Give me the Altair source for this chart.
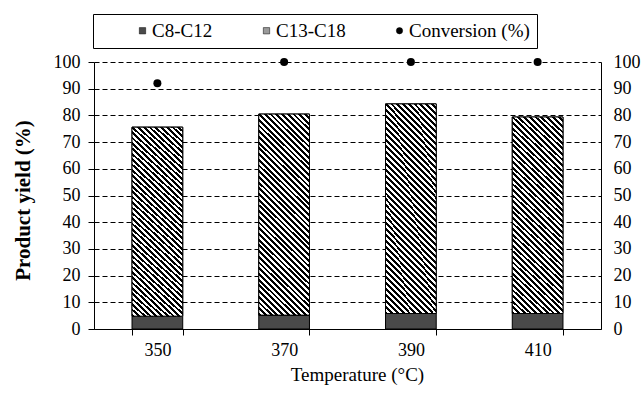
import altair as alt
import pandas as pd

temps = ["350", "370", "390", "410"]
c8_c12 = [4.8, 5.2, 5.8, 5.8]
c13_c18 = [70.8, 75.3, 78.5, 73.6]
conversion = [92, 100, 100, 100]
series = ["C8-C12", "C13-C18", "Conversion (%)"]
y_ticks = list(range(0, 101, 10))

rows = []
for t, a, b in zip(temps, c8_c12, c13_c18):
    rows.append({"temp": t, "series": "C8-C12", "y0": 0.0, "y1": a})
    rows.append({"temp": t, "series": "C13-C18", "y0": a, "y1": a + b})
bars_df = pd.DataFrame(rows)
hatch_df = bars_df[bars_df["series"] == "C13-C18"]
conv_df = pd.DataFrame({"temp": temps, "series": "Conversion (%)", "value": conversion})

FONT = "Liberation Serif"

# diagonal hatch as a striped linear gradient
N = 44
stops = []
for i in range(N):
    s, m, e = i / N, (i + 0.5) / N, (i + 1) / N
    stops += [
        {"offset": round(s, 5), "color": "black"},
        {"offset": round(m, 5), "color": "black"},
        {"offset": round(m, 5), "color": "white"},
        {"offset": round(e, 5), "color": "white"},
    ]
hatch = {"gradient": "linear", "x1": 0, "y1": 1, "x2": 0.294, "y2": -0.176, "stops": stops}

x_enc = alt.X(
    "temp:N",
    sort=temps,
    scale=alt.Scale(paddingInner=0.6, paddingOuter=0.3),
    axis=alt.Axis(
        title="Temperature (°C)",
        labelAngle=0,
        tickBand="extent",
        tickSize=6,
        labelPadding=6,
        titlePadding=6,
        titleX=263,
        domainColor="black",
        tickColor="black",
        labelFont=FONT,
        titleFont=FONT,
        labelFontSize=18,
        titleFontSize=19,
        titleFontWeight="normal",
        labelColor="black",
        titleColor="black",
    ),
)

NBSP = "\u00a0"
pad = NBSP * 9
fill_scale = alt.Scale(domain=series, range=["#4a4a4a", "#9a9a9a", "black"])
shape_scale = alt.Scale(domain=series, range=["square", "square", "circle"])
legend = alt.Legend(
    title=NBSP,
    titleOrient="left",
    titlePadding=33,
    titleFont=FONT,
    titleFontSize=19,
    orient="none",
    legendX=-1,
    legendY=-48,
    direction="horizontal",
    strokeColor="black",
    fillColor="white",
    padding=7,
    columnPadding=44,
    labelOffset=0,
    labelLimit=300,
    labelFont=FONT,
    labelFontSize=19,
    labelColor="black",
    symbolSize=40,
    symbolStrokeColor="black",
    symbolStrokeWidth=0.5,
    labelExpr="datum.value == 'Conversion (%)' ? datum.label + '" + pad + "' : datum.label",
)

bars = alt.Chart(bars_df).mark_bar(stroke="black", strokeWidth=1).encode(
    x=x_enc,
    y=alt.Y(
        "y0:Q",
        scale=alt.Scale(domain=[0, 100], nice=False),
        axis=alt.Axis(
            title="Product yield (%)",
            titleFontWeight="bold",
            values=y_ticks,
            grid=True,
            gridDash=[5, 3],
            gridColor="black",
            gridWidth=1,
            tickSize=6,
            labelPadding=8,
            titlePadding=20,
            titleY=138,
            domainColor="black",
            tickColor="black",
            labelFont=FONT,
            titleFont=FONT,
            labelFontSize=18,
            titleFontSize=21,
            labelColor="black",
            titleColor="black",
        ),
    ),
    y2="y1:Q",
    fill=alt.Fill("series:N", scale=fill_scale, legend=legend),
)

hatch_layer = alt.Chart(hatch_df).mark_bar(fill=hatch, stroke="black", strokeWidth=1).encode(
    x=x_enc,
    y=alt.Y("y0:Q", axis=None),
    y2="y1:Q",
)

points = alt.Chart(conv_df).mark_point(filled=True, size=64, opacity=1).encode(
    x=x_enc,
    y=alt.Y(
        "value:Q",
        axis=alt.Axis(
            orient="right",
            title=None,
            values=y_ticks,
            grid=False,
            ticks=False,
            labelPadding=12,
            domainColor="black",
            labelFont=FONT,
            labelFontSize=18,
            labelColor="black",
        ),
    ),
    fill=alt.Fill("series:N", scale=fill_scale, legend=legend),
    shape=alt.Shape("series:N", scale=shape_scale, legend=legend),
)

chart = (
    alt.layer(bars, hatch_layer, points)
    .resolve_axis(y="independent")
    .properties(
        width=507,
        height=267,
        autosize="none",
        padding={"left": 94, "top": 62, "right": 41, "bottom": 69},
        background="white",
    )
    .configure_view(stroke=None)
    .configure_axis(labelFont=FONT, titleFont=FONT)
    .configure_legend(labelFont=FONT, titleFont=FONT)
)

chart.save("out.html", embed_options={"renderer": "svg", "actions": False})
